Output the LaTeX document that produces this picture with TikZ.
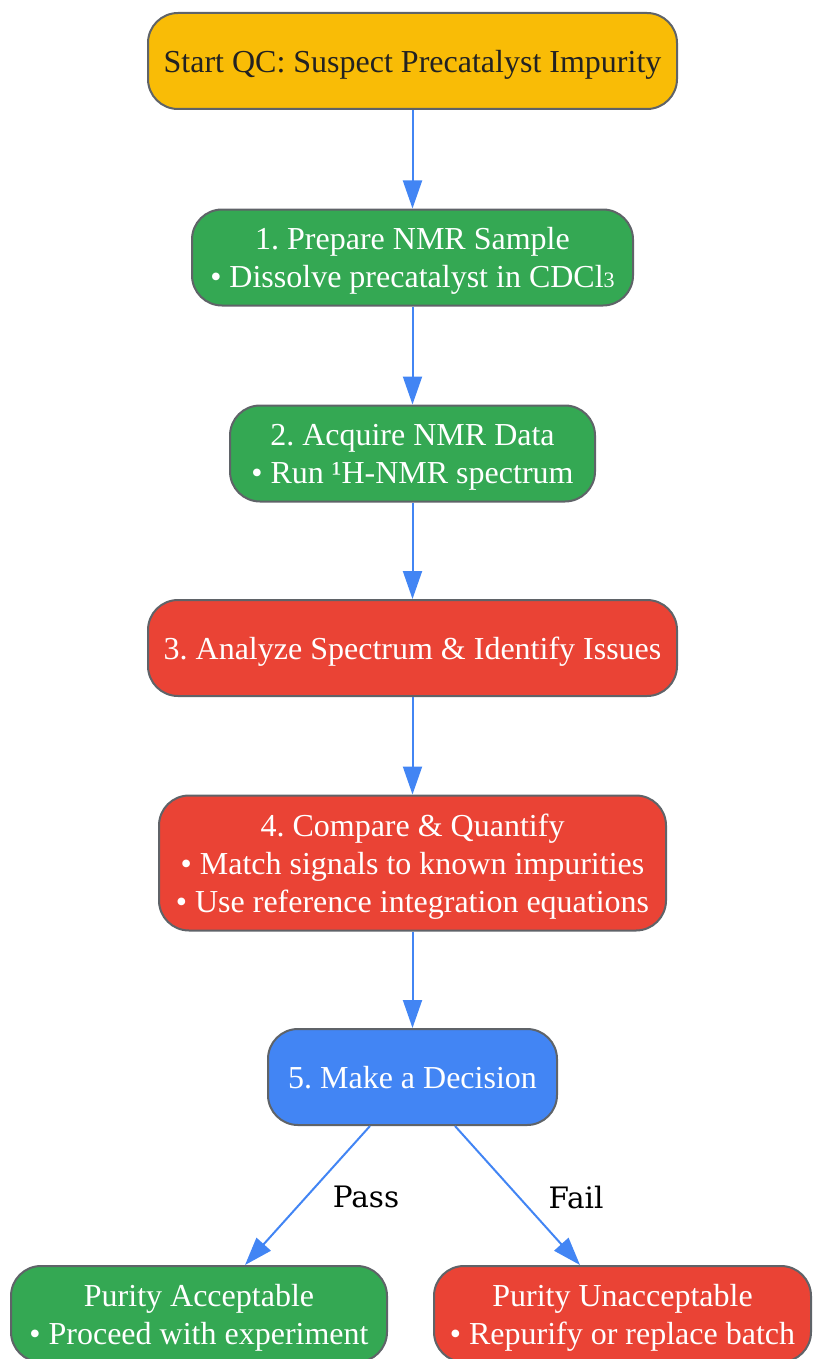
\documentclass[tikz,border=0pt]{standalone}
\usepackage{fontspec}
\setmainfont{Liberation Serif}
\newfontfamily\edgelabelfont{DejaVu Serif}
\usetikzlibrary{arrows.meta}
\definecolor{gyellow}{HTML}{F9BC06}
\definecolor{ggreen}{HTML}{34A853}
\definecolor{gred}{HTML}{EA4335}
\definecolor{gblue}{HTML}{4285F4}
\definecolor{gborder}{HTML}{5F6368}
\definecolor{gtext}{HTML}{222222}
\newcommand{\subthree}{{\fontsize{22}{22}\selectfont 3}}
\frenchspacing
\begin{document}
\begin{tikzpicture}[x=1pt,y=-1pt,
  box/.style={draw=gborder, line width=2pt, rounded corners=30pt, inner sep=0pt,
    align=center, text=white, minimum height=96pt, text depth=-1.5pt,
    font=\fontsize{32}{38}\selectfont},
  arr/.style={draw=gblue, line width=2pt, -{Triangle[length=28pt,width=19pt]}},
  elabel/.style={font=\edgelabelfont\fontsize{29.5}{34}\selectfont, text=black, inner sep=0pt}
]
\useasboundingbox (0,0) rectangle (813,1359);
\clip (0,0) rectangle (813,1359);

\node[box, fill=gyellow, text=gtext, minimum width=529pt] (s) at (412.5,61) {Start QC: Suspect Precatalyst Impurity};
\node[box, fill=ggreen, minimum width=441pt] (n1) at (412.5,257.5) {1. Prepare NMR Sample\\\textbullet\ Dissolve precatalyst in CDCl\subthree};
\node[box, fill=ggreen, minimum width=365pt] (n2) at (412.5,453.5) {2. Acquire NMR Data\\\textbullet\ Run ¹H-NMR spectrum};
\node[box, fill=gred, minimum width=529pt] (n3) at (412.5,648) {3. Analyze Spectrum \& Identify Issues};
\node[box, fill=gred, minimum width=507pt, minimum height=135pt] (n4) at (412.5,863) {4. Compare \& Quantify\\\textbullet\ Match signals to known impurities\\\textbullet\ Use reference integration equations};
\node[box, fill=gblue, minimum width=289pt] (n5) at (412.5,1077) {5. Make a Decision};
\node[box, fill=ggreen, minimum width=376pt] (pass) at (199,1314) {Purity Acceptable\\\textbullet\ Proceed with experiment};
\node[box, fill=gred, minimum width=377pt] (fail) at (622.5,1314) {Purity Unacceptable\\\textbullet\ Repurify or replace batch};

\draw[arr] (s) -- (n1);
\draw[arr] (n1) -- (n2);
\draw[arr] (n2) -- (n3);
\draw[arr] (n3) -- (n4);
\draw[arr] (n4) -- (n5);
\draw[arr] ([xshift=-42.5pt]n5.south) -- ([xshift=46pt]pass.north);
\draw[arr] ([xshift=42.5pt]n5.south) -- ([xshift=-42.5pt]fail.north);

\node[elabel] (lpass) at (366,1197) {Pass};
\node[elabel] (lfail) at (576,1197) {Fail};
\end{tikzpicture}
\end{document}
